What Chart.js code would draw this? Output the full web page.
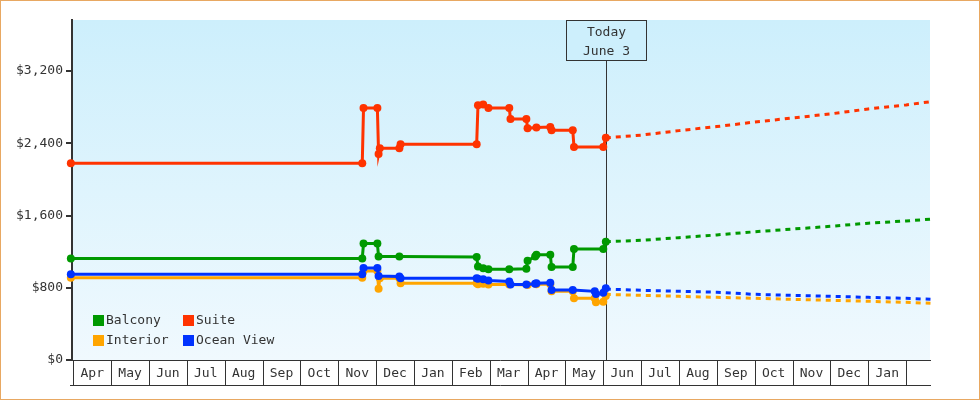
<!DOCTYPE html>
<html>
<head>
<meta charset="utf-8">
<style>
  html, body { margin: 0; padding: 0; background: #fff; }
  canvas { display: block; }
</style>
</head>
<body>
<canvas id="fareChart" width="980" height="400"></canvas>
<script src="https://cdn.jsdelivr.net/npm/chart.js@4.4.1/dist/chart.umd.min.js"></script>
<script>
// fare history, one slot per change date (null = that cabin didn't change that day)
const dates = [
  '2023-03-30', '2023-11-20', '2023-11-21', '2023-12-02', '2023-12-03', '2023-12-04',
  '2023-12-20', '2023-12-21', '2024-02-20', '2024-02-21', '2024-02-25', '2024-02-29',
  '2024-03-17', '2024-03-18', '2024-03-31', '2024-04-01', '2024-04-07', '2024-04-08',
  '2024-04-19', '2024-04-20', '2024-05-07', '2024-05-08', '2024-05-25', '2024-05-26',
  '2024-06-01', '2024-06-03'
];
const balcony = [1125, 1125, 1290, 1290, 1145, null, 1145, null, 1140, 1035, 1015, 1005,
  1005, null, 1010, 1100, 1145, 1165, 1165, 1030, 1030, 1230, null, null, 1230, 1310];
const suite = [2180, 2180, 2790, 2790, 2280, 2345, 2345, 2390, 2390, 2820, 2830, 2790,
  2790, 2670, 2670, 2565, null, 2575, 2580, 2545, 2545, 2360, null, null, 2360, 2460];
const interior = [910, 910, 985, 985, 790, 905, 905, 850, 850, 840, 845, 835,
  835, null, null, 830, null, 840, 840, 760, 760, 685, 685, 640, 645, 710];
const oceanView = [950, 950, 1020, 1020, 930, null, 925, 905, 905, 900, 895, 880,
  870, 835, 835, null, 845, 850, 855, 775, 775, null, 760, 730, 745, 795];

// projection after today
const forecastDates = ['2024-06-03', '2024-07-01', '2024-08-01', '2024-09-01', '2024-10-01',
  '2024-11-01', '2024-12-01', '2025-01-01', '2025-02-01', '2025-02-19'];
const balconyForecast = [1310, 1325, 1355, 1385, 1420, 1450, 1480, 1515, 1540, 1560];
const suiteForecast = [2460, 2490, 2540, 2585, 2635, 2680, 2725, 2780, 2825, 2860];
const interiorForecast = [727, 716, 705, 694, 683, 672, 661, 650, 639, 628];
const oceanViewForecast = [785, 772, 761, 750, 727, 716, 705, 694, 683, 672];

const monthLabels = ['Apr', 'May', 'Jun', 'Jul', 'Aug', 'Sep', 'Oct', 'Nov', 'Dec', 'Jan', 'Feb',
  'Mar', 'Apr', 'May', 'Jun', 'Jul', 'Aug', 'Sep', 'Oct', 'Nov', 'Dec', 'Jan'];
const yTicks = [0, 800, 1600, 2400, 3200];
const today = '2024-06-03';
const todayText = ['Today', 'June 3'];

const colors = { balcony: '#009900', suite: '#ff3300', interior: '#ffa500', ocean: '#0033ff' };

// months since Apr 2023, as a float
function monthPos(s) {
  const [y, m, d] = s.split('-').map(Number);
  const days = new Date(y, m, 0).getDate();
  return (y - 2023) * 12 + (m - 4) + (d - 1) / days;
}
function points(xs, ys) {
  return xs.map((d, i) => ({ x: monthPos(d), y: ys[i] })).filter(p => p.y !== null);
}

function history(label, vals, color, order) {
  return {
    label: label, data: points(dates, vals), borderColor: color, backgroundColor: color,
    borderWidth: 3, pointRadius: 4, pointHoverRadius: 4, pointBorderWidth: 0,
    tension: 0, clip: false, order: order
  };
}
function forecast(vals, color) {
  return {
    label: '', data: points(forecastDates, vals), borderColor: color,
    borderWidth: 3, borderDash: [5, 5], pointRadius: 0, tension: 0, clip: false, order: 9
  };
}

const FONT = "'DejaVu Sans Mono', monospace";
Chart.defaults.font.family = FONT;
Chart.defaults.font.size = 13;
Chart.defaults.color = '#333';

const decor = {
  id: 'decor',
  beforeDraw(chart) {
    const { ctx, chartArea: a } = chart;
    ctx.save();
    const g = ctx.createLinearGradient(0, a.top, 0, a.bottom);
    g.addColorStop(0, '#cdeffc');
    g.addColorStop(1, '#f0f9fe');
    ctx.fillStyle = g;
    ctx.fillRect(a.left, a.top, a.right - a.left, a.bottom - a.top);
    ctx.strokeStyle = '#e8a862';
    ctx.lineWidth = 1;
    ctx.strokeRect(0.5, 0.5, chart.width - 1, chart.height - 1);
    ctx.restore();
  },
  beforeDatasetsDraw(chart) {
    const { ctx, chartArea: a } = chart;
    const x = Math.round(chart.scales.x.getPixelForValue(monthPos(today))) + 0.5;
    ctx.save();
    ctx.strokeStyle = '#333';
    ctx.lineWidth = 1;
    ctx.beginPath();
    ctx.moveTo(x, a.top + 40);
    ctx.lineTo(x, a.bottom);
    ctx.stroke();
    ctx.restore();
  },
  afterDraw(chart) {
    const { ctx, chartArea: a } = chart;
    const xs = chart.scales.x;
    ctx.save();
    ctx.strokeStyle = '#333';
    ctx.lineWidth = 1;
    ctx.fillStyle = '#333';
    ctx.font = '13px ' + FONT;

    // month strip under the plot
    const yb = a.bottom + 25;
    ctx.beginPath();
    ctx.moveTo(a.left - 2, a.bottom + 0.5);
    ctx.lineTo(a.right + 1, a.bottom + 0.5);
    ctx.moveTo(a.left - 2, yb + 0.5);
    ctx.lineTo(a.right + 1, yb + 0.5);
    for (let i = 0; i <= monthLabels.length; i++) {
      const px = Math.round(xs.getPixelForValue(i)) + 0.5;
      ctx.moveTo(px, a.bottom);
      ctx.lineTo(px, yb);
    }
    ctx.stroke();
    ctx.textAlign = 'center';
    ctx.textBaseline = 'middle';
    monthLabels.forEach((m, i) => {
      const cx = (xs.getPixelForValue(i) + xs.getPixelForValue(i + 1)) / 2;
      ctx.fillText(m, cx, a.bottom + 13.5);
    });

    // today box
    const tx = Math.round(xs.getPixelForValue(monthPos(today))) + 0.5;
    ctx.fillStyle = '#cdeffc';
    ctx.fillRect(tx - 40, a.top + 0.5, 80, 40);
    ctx.strokeRect(tx - 40, a.top + 0.5, 80, 40);
    ctx.fillStyle = '#333';
    ctx.fillText(todayText[0], tx, a.top + 13);
    ctx.fillText(todayText[1], tx, a.top + 32);

    // legend, two columns inside the plot
    ctx.textAlign = 'left';
    const ds = chart.data.datasets.slice(0, 4);
    ds.forEach((d, i) => {
      const lx = a.left + 21 + (i % 2) * 90;
      const ly = a.bottom - 45 + Math.floor(i / 2) * 20;
      ctx.fillStyle = d.borderColor;
      ctx.fillRect(lx, ly, 11, 11);
      ctx.fillStyle = '#333';
      ctx.fillText(d.label, lx + 13, ly + 6);
    });
    ctx.restore();
  }
};

const ctx = document.getElementById('fareChart').getContext('2d');
const fareChart = new Chart(ctx, {
  type: 'line',
  data: {
    datasets: [
      history('Balcony', balcony, colors.balcony, 2),
      history('Suite', suite, colors.suite, 3),
      history('Interior', interior, colors.interior, 1),
      history('Ocean View', oceanView, colors.ocean, 0),
      forecast(balconyForecast, colors.balcony),
      forecast(suiteForecast, colors.suite),
      forecast(interiorForecast, colors.interior),
      forecast(oceanViewForecast, colors.ocean)
    ]
  },
  options: {
    responsive: false,
    animation: false,
    devicePixelRatio: 1,
    layout: { padding: { top: 20, right: 50, bottom: 40, left: 0 } },
    plugins: { legend: { display: false }, tooltip: { enabled: false } },
    scales: {
      x: { type: 'linear', display: false, min: -0.034, max: 22.63 },
      y: {
        min: 0, max: 3765,
        afterFit: s => { s.width = 72; },
        afterBuildTicks: s => { s.ticks = yTicks.map(v => ({ value: v })); },
        ticks: { padding: 3, callback: v => '$' + v.toLocaleString('en-US') },
        grid: { drawOnChartArea: false, tickLength: 6, color: '#333', lineWidth: 2 },
        border: { display: true, color: '#333', width: 2 }
      }
    }
  },
  plugins: [decor]
});
</script>
</body>
</html>
